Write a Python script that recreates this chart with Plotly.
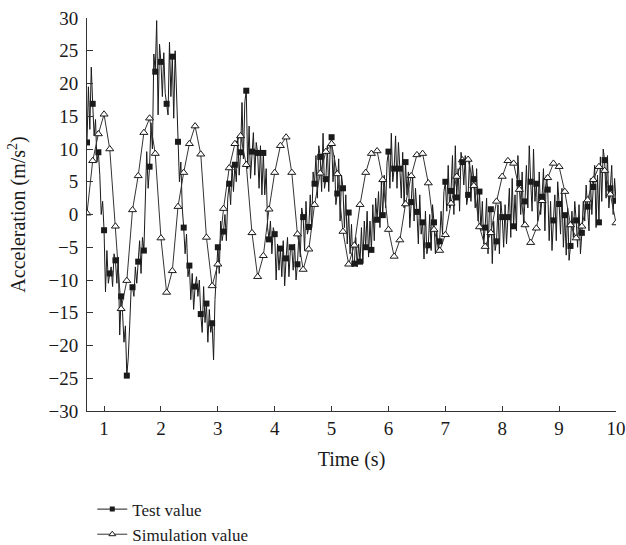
import numpy as np
import plotly.graph_objects as go

# ---- data ----
# Test value: sampled every 0.025 s from 0.7 s; marker every 4th sample (0.1 s)
test_rows = [
    [11.0, 19.5, 13.0, 22.5],   # 0.7
    [16.9, 12.0, 14.5, 8.0],
    [9.5, 6.0, 0.0, 2.0],
    [-2.4, -11.8, -5.5, -10.5],  # 1.0
    [-9.0, -8.0, -11.0, -6.0],
    [-7.0, -10.5, -6.5, -18.4],
    [-12.5, -15.0, -19.5, -17.0],
    [-24.6, -21.9, -17.0, -11.5],
    [-11.1, -12.5, -8.0, -10.5],
    [-7.2, -4.0, -9.0, -3.5],
    [-5.5, 2.0, 9.6, 4.0],
    [7.3, 14.0, 10.0, 24.5],
    [21.8, 29.6, 15.2, 26.0],
    [23.3, 18.0, 24.7, 18.5],    # 2.0
    [16.9, 15.2, 26.3, 18.0],
    [24.1, 14.7, 25.0, 18.5],
    [11.1, 5.0, 8.0, 1.0],
    [-2.0, -6.0, -3.0, -9.5],
    [-7.8, -13.0, -9.0, -14.5],
    [-11.0, -9.5, -12.5, -10.0],
    [-15.2, -18.0, -11.0, -16.5],
    [-13.6, -19.5, -14.5, -18.0],
    [-16.6, -22.2, -13.0, -9.0],
    [-5.0, -9.0, -1.0, -4.0],    # 3.0
    [-2.6, 0.0, -4.0, 2.5],
    [4.7, 1.5, 7.5, 3.5],
    [7.6, 5.0, 12.0, 6.0],
    [9.5, 17.1, 8.5, 17.2],
    [18.9, 7.0, 13.5, 5.5],
    [9.6, 12.5, 6.0, 11.0],
    [9.4, 4.0, 10.5, 3.0],
    [9.4, 3.0, 7.0, -2.0],
    [-3.8, -1.0, -6.0, -2.0],
    [-3.0, -10.0, -4.5, -8.5],   # 4.0
    [-5.2, -9.5, -4.0, -10.9],
    [-6.7, -3.5, -9.5, -5.5],
    [-5.0, -8.5, -4.5, -10.0],
    [-7.6, -3.0, -6.5, 1.0],
    [-0.4, -5.5, 2.0, -3.0],
    [-1.9, 3.0, -2.0, 6.5],
    [4.7, 9.0, 2.5, 10.5],
    [8.8, 3.5, 12.4, 4.0],
    [5.4, 10.5, 3.5, 10.0],
    [11.8, 5.0, 9.0, 1.5],       # 5.0
    [3.2, 8.5, -1.0, 6.0],
    [4.0, -2.0, 3.0, -4.5],
    [0.3, -6.0, -1.5, -8.0],
    [-7.5, -3.5, -8.0, -4.5],
    [-7.2, -2.0, -7.5, -1.0],
    [-5.0, 0.5, -6.5, -1.0],
    [-5.4, 1.5, -4.0, 2.5],
    [-0.8, 3.5, -2.0, 5.0],
    [-0.1, 6.0, 1.0, 8.0],
    [9.6, 4.0, 12.4, 5.0],       # 6.0
    [7.0, 12.0, 4.0, 11.0],
    [7.0, 2.5, 9.5, 1.0],
    [8.0, 3.0, 6.5, -2.0],
    [1.9, 6.0, -1.0, 4.0],
    [0.4, -4.5, 3.0, -3.0],
    [-1.2, -6.8, 0.5, -6.0],
    [-4.7, 0.0, -5.5, 1.5],
    [-1.2, -6.0, -2.5, -5.5],
    [-4.1, 0.5, -3.0, 3.5],
    [5.0, 0.5, 7.5, 1.0],        # 7.0
    [3.6, 9.0, 0.0, 10.5],
    [2.6, 7.0, 0.5, 9.5],
    [8.0, 4.5, 9.0, 1.5],
    [3.0, 8.5, 2.0, 7.5],
    [5.4, 1.0, 7.0, -1.0],
    [3.5, -2.5, 2.0, -4.5],
    [-2.0, 2.5, -6.0, 1.0],
    [0.8, -7.5, -1.0, -5.5],
    [-4.1, 1.5, -6.0, 2.0],
    [-0.4, -5.0, 1.5, -4.5],     # 8.0
    [-0.4, 4.0, -3.5, 5.5],
    [-1.8, 3.0, -2.5, 9.0],
    [4.8, 0.0, 6.5, -1.5],
    [2.0, 7.5, 1.0, 10.5],
    [5.0, 0.5, 10.0, 2.0],
    [4.7, -1.0, 6.5, 0.0],
    [2.7, 7.0, -2.5, 6.0],
    [3.8, -4.0, 2.0, -5.5],
    [-0.9, 3.0, -4.0, 5.0],
    [1.6, -3.0, 4.0, -5.0],      # 9.0
    [-0.1, -6.2, 1.0, -7.0],
    [-4.8, 0.5, -3.5, 2.0],
    [-0.9, -5.0, 1.5, -6.0],
    [-2.8, 2.0, -1.0, 4.5],
    [1.2, -2.5, 5.5, 0.0],
    [4.2, 7.5, -2.0, 6.0],
    [-1.2, 8.8, 2.0, 10.0],
    [8.3, 2.5, 9.0, 1.0],
    [4.0, 7.5, 0.0, 5.5],
    [2.1],                       # 10.0
]
test_values = [v for row in test_rows for v in row]
test_start, test_step = 0.7, 0.025

# Simulation value: one point every 0.1 s from 0.7 s
sim_values = [
    0.2, 8.2, 12.3, 15.3, 10.0, -1.8, -14.4, -10.1, 0.7, 5.9,
    12.5, 14.7, 9.3, -3.6, -11.9, -8.6, 1.2, 6.4, 10.8, 13.5,
    9.2, -3.5, -10.9, -7.6, 0.9, 7.1, 10.8, 12.0, 7.6, -2.8,
    -9.5, -6.3, 0.8, 6.4, 10.5, 11.8, 6.4, -3.0, -8.4, -5.3,
    1.5, 6.3, 9.6, 10.8, 6.2, -2.6, -7.6, -4.7, 1.5, 6.4,
    9.3, 9.7, 5.3, -2.3, -6.4, -3.9, 1.6, 5.9, 9.1, 9.3,
    4.8, -2.3, -5.5, -3.1, 1.7, 5.8, 8.3, 8.4, 4.4, -1.9,
    -4.9, -2.8, 2.0, 5.8, 8.2, 7.8, 3.8, -1.6, -4.3, -2.1,
    2.1, 5.6, 7.8, 7.3, 3.5, -1.6, -3.6, -1.8, 2.2, 5.3,
    7.3, 6.7, 3.1, -1.3,
]
sim_start, sim_step = 0.7, 0.1

x_tick_vals = list(range(1, 11))
y_tick_vals = list(range(-30, 31, 5))

test_x = np.round(test_start + test_step * np.arange(len(test_values)), 4)
sim_x = np.round(sim_start + sim_step * np.arange(len(sim_values)), 4)

FONT = "Liberation Serif"
INK = "#1a1a1a"

fig = go.Figure()
# dense test signal
fig.add_trace(go.Scatter(x=test_x, y=test_values, mode="lines",
                         line=dict(color=INK, width=1), showlegend=False, hoverinfo="skip"))
# simulation
fig.add_trace(go.Scatter(x=sim_x, y=sim_values, mode="lines+markers",
                         line=dict(color="#333333", width=1),
                         marker=dict(symbol="triangle-up", size=7, color="white",
                                     line=dict(color=INK, width=1)),
                         showlegend=False))
# test markers every 0.1 s
fig.add_trace(go.Scatter(x=test_x[::4], y=test_values[::4], mode="markers",
                         marker=dict(symbol="square", size=6, color=INK),
                         showlegend=False))
# legend entries
fig.add_trace(go.Scatter(x=[None], y=[None], mode="lines+markers", name="Test value",
                         line=dict(color=INK, width=1),
                         marker=dict(symbol="square", size=5, color=INK)))
fig.add_trace(go.Scatter(x=[None], y=[None], mode="lines+markers", name="Simulation value",
                         line=dict(color="#333333", width=1),
                         marker=dict(symbol="triangle-up", size=6, color="white",
                                     line=dict(color=INK, width=1))))

axis_common = dict(showline=True, linecolor="#333333", linewidth=1, showgrid=False,
                   zeroline=False, ticks="inside", tickcolor="#333333", tickwidth=1,
                   tickfont=dict(family=FONT, size=19, color=INK))
fig.update_xaxes(range=[0.7, 10], tickvals=x_tick_vals, ticklen=5,
                 title=dict(text="Time (s)", font=dict(family=FONT, size=20, color=INK), standoff=14),
                 **axis_common)
fig.update_yaxes(range=[-30, 30], tickvals=y_tick_vals, ticklen=6, ticklabelstandoff=4,
                 title=dict(text="Acceleration (m/s<sup>2</sup>)", font=dict(family=FONT, size=20, color=INK),
                            standoff=17),
                 **axis_common)

fig.update_layout(
    width=626, height=545,
    margin=dict(l=87, r=10, t=18, b=134, autoexpand=False),
    paper_bgcolor="white", plot_bgcolor="white",
    font=dict(family=FONT, size=19, color=INK),
    legend=dict(x=0.01, y=-0.205, xanchor="left", yanchor="top",
                font=dict(family=FONT, size=17, color=INK),
                bgcolor="rgba(0,0,0,0)", tracegroupgap=0),
)

fig.write_html("out.html")
